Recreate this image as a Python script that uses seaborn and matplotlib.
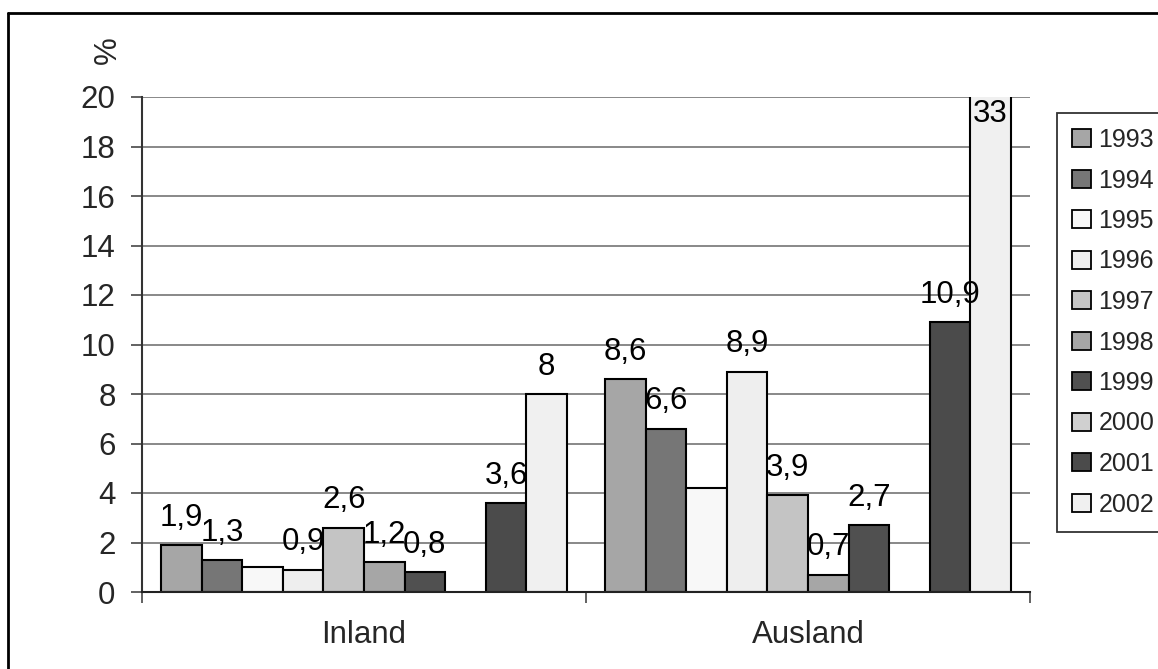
import numpy as np
import pandas as pd
import matplotlib
matplotlib.use("Agg")
import matplotlib.pyplot as plt
from matplotlib.patches import Patch
from matplotlib.lines import Line2D
import seaborn as sns

groups = ["Inland", "Ausland"]
years = ["1993", "1994", "1995", "1996", "1997", "1998", "1999", "2000", "2001", "2002"]
inland = [1.9, 1.3, 1.0, 0.9, 2.6, 1.2, 0.8, np.nan, 3.6, 8.0]
ausland = [8.6, 6.6, 4.2, 8.9, 3.9, 0.7, 2.7, np.nan, 10.9, 33.0]
show_label = [True, True, False, True, True, True, True, False, True, True]
colors = ["#a6a6a6", "#767676", "#f8f8f8", "#eeeeee", "#c4c4c4",
          "#a6a6a6", "#505050", "#d0d0d0", "#4b4b4b", "#f0f0f0"]
yticks = [0, 2, 4, 6, 8, 10, 12, 14, 16, 18, 20]

sns.set_theme(style="white")
plt.rcParams["font.family"] = ["Liberation Sans", "DejaVu Sans"]

rows = []
for g, vals in zip(groups, [inland, ausland]):
    for y, v in zip(years, vals):
        rows.append({"group": g, "year": y, "value": v})
df = pd.DataFrame(rows)

FS = 22.5
W, H = 1158, 669
fig = plt.figure(figsize=(W / 100, H / 100), dpi=100)
ax = fig.add_axes([142 / W, 1 - 592 / H, (1030 - 142) / W, (592 - 97) / H])

sns.barplot(data=df, x="group", y="value", hue="year", hue_order=years,
            order=groups, palette=colors, saturation=1, width=0.914,
            edgecolor="black", linewidth=1.5, errorbar=None, legend=False, ax=ax)

ax.set_ylim(0, 20)
ax.set_xlim(-0.5, 1.5)
ax.set_yticks(yticks)
ax.set_yticklabels([str(t) for t in yticks], fontsize=FS)
ax.set_xlabel("")
ax.set_ylabel("")
ax.yaxis.grid(True, color="#7f7f7f", linewidth=1.3)
ax.xaxis.grid(False)
ax.set_axisbelow(True)
for s in ["top", "right"]:
    ax.spines[s].set_visible(False)
ax.spines["left"].set_color("#333333")
ax.spines["left"].set_linewidth(1.5)
ax.spines["bottom"].set_color("#222222")
ax.spines["bottom"].set_linewidth(1.5)

ax.tick_params(axis="y", which="major", direction="out", length=8, width=1.3,
               color="#555555", pad=11, left=True)
ax.tick_params(axis="x", which="major", length=0, pad=20, labelsize=FS)
ax.set_xticks([-0.5, 0.5, 1.5], minor=True)
ax.tick_params(axis="x", which="minor", direction="out", length=8, width=1.3,
               color="#555555", bottom=True)

# value labels
for gi, vals in enumerate([inland, ausland]):
    for yi, v in enumerate(vals):
        if not show_label[yi] or np.isnan(v):
            continue
        cont = ax.containers[yi]
        if len(cont.patches) <= gi:
            continue
        patch = cont.patches[gi]
        xc = patch.get_x() + patch.get_width() / 2
        txt = f"{v:g}".replace(".", ",")
        if v > 20:
            ax.text(xc, 19.3, txt, ha="center", va="center", fontsize=FS, color="black")
        else:
            ax.text(xc, v + 1.1, txt, ha="center", va="center", fontsize=FS, color="black")

# % label
fig.text(108 / W, 1 - 50 / H, "%", rotation=90, ha="center", va="center", fontsize=FS)

# legend
handles = [Patch(facecolor=c, edgecolor="black", linewidth=1.3) for c in colors]
leg = fig.legend(handles, years, loc="upper left",
                 bbox_to_anchor=(1057 / W, 1 - 113 / H), bbox_transform=fig.transFigure,
                 borderaxespad=0, frameon=True, fancybox=False, framealpha=1,
                 fontsize=18, handlelength=0.75, handleheight=0.75, handletextpad=0.3,
                 labelspacing=0.66, borderpad=0.6)
leg.get_frame().set_edgecolor("#333333")
leg.get_frame().set_linewidth(1.3)

# outer border
fig.add_artist(Line2D([8 / W, 8 / W], [0, 1 - 13 / H], color="black", linewidth=2,
                      transform=fig.transFigure))
fig.add_artist(Line2D([8 / W, 1.01], [1 - 13 / H, 1 - 13 / H], color="black", linewidth=2,
                      transform=fig.transFigure))

fig.savefig("out.png", dpi=100)
